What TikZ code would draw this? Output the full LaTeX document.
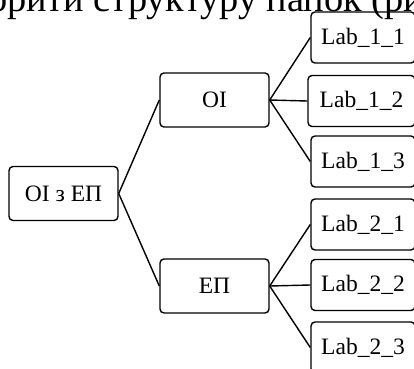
\documentclass[tikz,border=0pt]{standalone}
\usepackage{fontspec}
\setmainfont{Liberation Serif}
\begin{document}
\begin{tikzpicture}[x=1bp,y=-1bp,
  box/.style={draw,line width=1.4bp,rounded corners=4bp,inner sep=0pt,
    minimum height=52bp,font=\fontsize{23.6}{28}\selectfont},
  midbox/.style={box,minimum width=109bp,minimum height=54bp},
  labbox/.style={box,minimum width=104bp,minimum height=51bp},
  link/.style={line width=1.4bp}]
\useasboundingbox (0,0) rectangle (414,369);
\clip (0,0) rectangle (414,369);

% running text line above the tree
\node[anchor=base west,inner sep=0pt] (caption) at (7,11)
  {\fontsize{38.5}{46}\selectfont\llap{ство}рити структуру папок (рис};

% tree nodes
\node[midbox] (root) at (63.5,193.5) {ОІ з ЕП};
\node[midbox] (oi) at (214.5,100) {ОІ};
\node[midbox] (ep) at (214.5,286) {ЕП};

\node[labbox] (l11) at (363,37.5) {Lab\_1\_1};
\node[labbox,minimum width=107bp] (l12) at (361.5,101) {Lab\_1\_2};
\node[labbox] (l13) at (363,161.5) {Lab\_1\_3};
\node[labbox] (l21) at (363,224.5) {Lab\_2\_1};
\node[labbox] (l22) at (363,285) {Lab\_2\_2};
\node[labbox] (l23) at (363,347.5) {Lab\_2\_3};

% connectors
\draw[link] (root.east) -- (oi.west);
\draw[link] (root.east) -- (ep.west);
\draw[link] (oi.east) -- (l11.west);
\draw[link] (oi.east) -- (l12.west);
\draw[link] (oi.east) -- (l13.west);
\draw[link] (ep.east) -- (l21.west);
\draw[link] (ep.east) -- (l22.west);
\draw[link] (ep.east) -- (l23.west);
\end{tikzpicture}
\end{document}
